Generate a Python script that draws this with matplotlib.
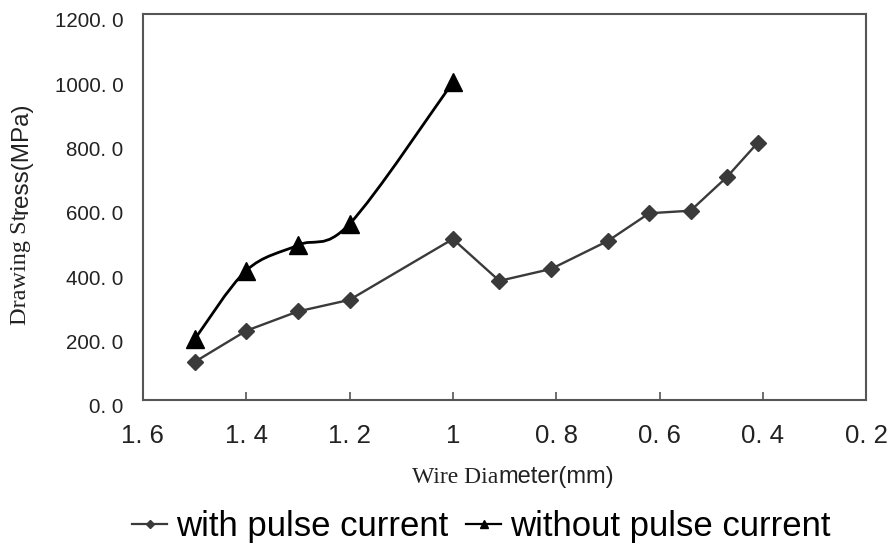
import matplotlib
matplotlib.use("Agg")
import matplotlib.pyplot as plt
import matplotlib.transforms as mtransforms
from matplotlib.path import Path
from matplotlib.patches import PathPatch
from matplotlib.lines import Line2D

# ---- data ----
x_pulse = [1.5, 1.4, 1.3, 1.2, 1.0, 0.91, 0.81, 0.70, 0.62, 0.54, 0.47, 0.41]
y_pulse = [118, 215, 275, 311, 500, 370, 407, 494, 580, 588, 692, 799]
x_nopulse = [1.5, 1.4, 1.3, 1.2, 1.0]
y_nopulse = [188, 402, 481, 547, 987]
series_labels = ["with pulse current", "without pulse current"]
x_ticks = [1.6, 1.4, 1.2, 1.0, 0.8, 0.6, 0.4, 0.2]
x_ticklabels = ["1. 6", "1. 4", "1. 2", "1", "0. 8", "0. 6", "0. 4", "0. 2"]
y_ticks = [0, 200, 400, 600, 800, 1000, 1200]
y_ticklabels = ["0. 0", "200. 0", "400. 0", "600. 0", "800. 0", "1000. 0", "1200. 0"]

SANS = "Liberation Sans"
SERIF = "Liberation Serif"
plt.rcParams["font.family"] = [SANS, "DejaVu Sans"]

fig = plt.figure(figsize=(8.93, 5.43), dpi=100)
ax = fig.add_axes([0.160, 0.2634, 0.810, 0.7114])

gray = "#3a3a3a"
ax.plot(x_pulse, y_pulse, color=gray, lw=1.7, marker="D", ms=8.5,
        mfc=gray, mec=gray, zorder=3)


def smooth_path(xs, ys):
    pts = list(zip(xs, ys))
    n = len(pts)
    verts = [pts[0]]
    codes = [Path.MOVETO]
    for i in range(n - 1):
        p0 = pts[i - 1] if i > 0 else pts[i]
        p1 = pts[i]
        p2 = pts[i + 1]
        p3 = pts[i + 2] if i + 2 < n else pts[i + 1]
        c1 = (p1[0] + (p2[0] - p0[0]) / 6.0, p1[1] + (p2[1] - p0[1]) / 6.0)
        c2 = (p2[0] - (p3[0] - p1[0]) / 6.0, p2[1] - (p3[1] - p1[1]) / 6.0)
        verts += [c1, c2, p2]
        codes += [Path.CURVE4] * 3
    return Path(verts, codes)


ax.add_patch(PathPatch(smooth_path(x_nopulse, y_nopulse), fill=False,
                       edgecolor="black", lw=2.0, zorder=3))
ax.plot(x_nopulse, y_nopulse, ls="none", marker="^", ms=13.5,
        mfc="black", mec="black", zorder=4)

ax.set_xlim(1.6, 0.2)
ax.set_ylim(0, 1200)
ax.set_xticks(x_ticks)
ax.set_xticklabels(x_ticklabels, fontsize=18.5, color="#222222")
ax.set_yticks(y_ticks)
ax.set_yticklabels(y_ticklabels, fontsize=14.8, color="#222222")
ax.tick_params(axis="x", direction="in", length=6, width=1.2, color="#555555", pad=17.5)
ax.tick_params(axis="y", length=0, pad=14)
off = mtransforms.ScaledTranslation(0, -6 / 100.0, fig.dpi_scale_trans)
for lab in ax.get_yticklabels():
    lab.set_transform(lab.get_transform() + off)

for sp in ax.spines.values():
    sp.set_color("#555555")
    sp.set_linewidth(1.5)

# x label: mixed fonts
t1 = fig.text(412 / 893, 1 - 488 / 543, "Wire Dia", family=SERIF, fontsize=17,
              ha="left", va="bottom", color="#222222")
ax.annotate("meter(mm)", xy=(1, 0), xycoords=t1, ha="left", va="bottom",
            fontsize=17, family=SANS, color="#222222")

# y label: mixed fonts, rotated
t2 = fig.text(21 / 893, 1 - 325 / 543, "Drawing St", family=SERIF, fontsize=17.5,
              rotation=90, ha="center", va="bottom", color="#222222")
ax.annotate("ress(MPa)", xy=(0.5, 1), xycoords=t2, ha="center", va="bottom",
            rotation=90, fontsize=17.5, family=SANS, color="#222222")

handles = [
    Line2D([], [], color=gray, lw=1.6, marker="D", ms=4.5, mfc=gray, mec=gray),
    Line2D([], [], color="black", lw=1.6, marker="^", ms=6, mfc="black", mec="black"),
]
fig.legend(handles, series_labels, loc="center", bbox_to_anchor=(0.539, 0.031),
           ncol=2, frameon=False, fontsize=25, handlelength=1.0,
           handletextpad=0.26, columnspacing=0.52, borderpad=0.1)

fig.savefig("out.png", dpi=100)
